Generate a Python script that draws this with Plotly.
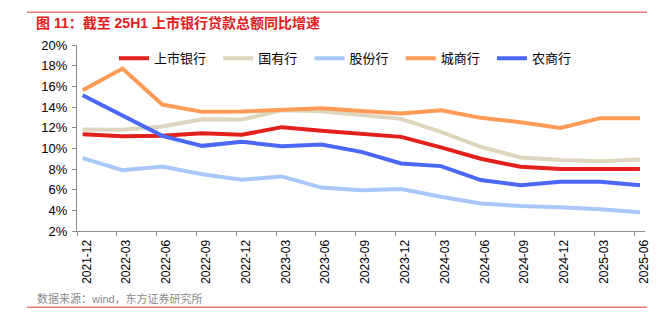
import plotly.graph_objects as go

# Quarter-end labels
quarters = ["2021-12", "2022-03", "2022-06", "2022-09", "2022-12", "2023-03", "2023-06",
            "2023-09", "2023-12", "2024-03", "2024-06", "2024-09", "2024-12", "2025-03", "2025-06"]

# YoY loan growth, %
listed_banks = [11.37, 11.18, 11.21, 11.47, 11.31, 12.05, 11.70, 11.44, 11.11, 10.09, 8.99, 8.21, 7.99, 7.99, 7.99]
state_owned = [11.83, 11.79, 12.11, 12.82, 12.79, 13.69, 13.59, 13.21, 12.85, 11.60, 10.15, 9.12, 8.86, 8.76, 8.93]
joint_stock = [9.05, 7.89, 8.25, 7.50, 6.96, 7.28, 6.20, 5.95, 6.06, 5.31, 4.67, 4.42, 4.29, 4.10, 3.81]
city_comm = [15.62, 17.72, 14.24, 13.53, 13.56, 13.75, 13.88, 13.62, 13.37, 13.69, 12.95, 12.53, 11.98, 12.92, 12.92]
rural_comm = [15.14, 13.18, 11.21, 10.24, 10.63, 10.21, 10.38, 9.66, 8.54, 8.28, 6.93, 6.44, 6.76, 6.76, 6.42]

y_ticks = [2, 4, 6, 8, 10, 12, 14, 16, 18, 20]
y_tick_text = [f"{v}%" for v in y_ticks]

series = [
    ("上市银行", listed_banks, "#e3201b"),
    ("国有行", state_owned, "#ded5bf"),
    ("股份行", joint_stock, "#a9c8f8"),
    ("城商行", city_comm, "#ff9b57"),
    ("农商行", rural_comm, "#4b67f6"),
]

xs = list(range(len(quarters)))

# trailing non-breaking spaces widen the gap between legend entries
pad = "\u00a0\u00a0"

fig = go.Figure()
for name, vals, color in series:
    fig.add_trace(go.Scatter(
        x=xs, y=vals, name=name + pad, mode="lines",
        line=dict(color=color, width=4),
    ))

W, H = 665, 322
L, R, T, B = 77, 20, 45, 91
pw = W - L - R
ph = H - T - B

def px_x(x):
    return (x - L) / pw

def px_y(y):
    return (H - B - y) / ph

font_family = "Liberation Sans, Arial, Noto Sans CJK SC, sans-serif"

fig.update_layout(
    width=W, height=H,
    margin=dict(l=L, r=R, t=T, b=B),
    paper_bgcolor="white",
    plot_bgcolor="white",
    font=dict(family=font_family, size=13, color="#000000"),
    showlegend=True,
    legend=dict(
        orientation="h",
        x=px_x(114), xanchor="left",
        y=px_y(58.3), yanchor="middle",
        font=dict(size=13, color="#000000"),
        bgcolor="rgba(0,0,0,0)",
        itemwidth=30,
        traceorder="normal",
    ),
    title=dict(
        text="<b>图 11：截至 25H1 上市银行贷款总额同比增速</b>",
        font=dict(size=14, color="#e3201b", family=font_family),
        xref="container", yref="container",
        x=36 / W, xanchor="left",
        y=1 - 23 / H, yanchor="middle",
    ),
    xaxis=dict(
        range=[-0.143, 14.126],
        tickmode="array", tickvals=xs, ticktext=quarters,
        tickangle=-90,
        ticks="",
        ticklabelshift=4,
        ticklabelstandoff=3,
        tickfont=dict(size=12, color="#000000"),
        showline=True, linecolor="#8c8c8c", linewidth=1,
        showgrid=False, zeroline=False,
        minor=dict(ticks="outside", tick0=-0.143, dtick=1, ticklen=4,
                   tickcolor="#8c8c8c", showgrid=False),
    ),
    yaxis=dict(
        range=[2, 20],
        tickmode="array", tickvals=y_ticks, ticktext=y_tick_text,
        ticks="outside", ticklen=4, tickcolor="#8c8c8c",
        ticklabelstandoff=2,
        tickfont=dict(size=13, color="#000000"),
        showline=True, linecolor="#8c8c8c", linewidth=1,
        showgrid=False, zeroline=False,
    ),
    shapes=[
        dict(type="line", xref="paper", yref="paper",
             x0=px_x(27), x1=px_x(647), y0=px_y(12.3), y1=px_y(12.3),
             line=dict(color="#ea7a74", width=1.5)),
        dict(type="line", xref="paper", yref="paper",
             x0=px_x(27), x1=px_x(647), y0=px_y(307.3), y1=px_y(307.3),
             line=dict(color="#ea7a74", width=1.5)),
    ],
    annotations=[
        dict(text="数据来源：wind，东方证券研究所",
             xref="paper", yref="paper",
             x=px_x(35), xanchor="left", y=px_y(298.5), yanchor="middle",
             showarrow=False, font=dict(size=11, color="#8a8a8a")),
    ],
)

fig.write_html("out.html")
